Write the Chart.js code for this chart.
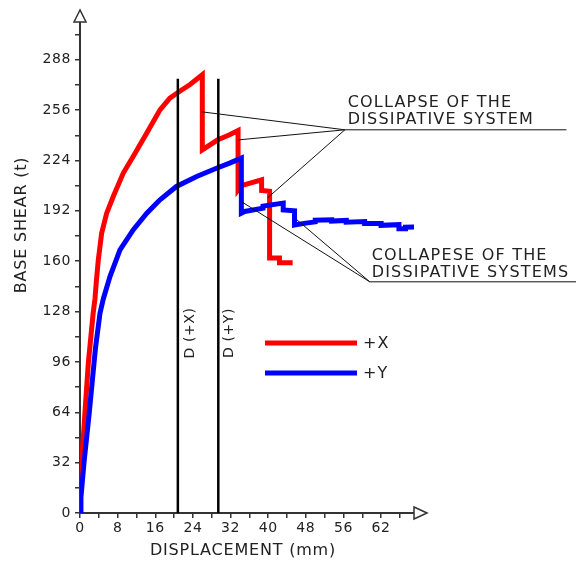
<!DOCTYPE html>
<html><head><meta charset="utf-8">
<script src="https://cdn.jsdelivr.net/npm/chart.js@4"></script>
<style>html,body{margin:0;padding:0;background:#fff}</style>
</head><body>
<canvas id="c" width="576" height="562"></canvas>
<script>
// ---------- DATA ----------
const xTickValues = [0, 8, 16, 24, 32, 40, 48, 56, 64];
const xTickLabels = ['0', '8', '16', '24', '32', '40', '48', '56', '62'];
const yTickValues = [0, 32, 64, 96, 128, 160, 192, 224, 256, 288];

// +X : displacement (mm), base shear (t)
const plusX = [
  [0,0],[0,10],[0.36,32],[1.06,64],[1.76,95],[2.8,127],[3.18,136],[3.5,148],[3.89,160.8],[4.6,177.8],
  [5.67,190.5],[7.07,201.1],[9.2,216],[11.3,226.5],[14.2,241.4],[17,256.2],[19.1,263.6],[21.2,268],
  [23.4,272.3],[26,278.5],[26,230.8],[29.2,237],[31.8,240.3],[33.6,243],[33.6,205.3],[34.3,208],
  [38.6,211.7],[38.6,205],[40.3,204.5],[40.3,162],[42.4,162],[42.4,159],[45.2,159]
];
// +Y
const plusY = [
  [0,0],[0.2,10],[0.85,32],[1.98,64],[2.97,95],[3.3,105],[4.25,127],[4.95,136],[6.37,150.2],[8.5,167.2],
  [11.3,179.9],[14.2,190.5],[17,199],[20.5,207.5],[24.8,213.8],[29,219.1],[31.8,222.3],[34.3,225.5],
  [34.3,190.5],[35,191.6],[38.9,193.7],[38.9,195],[43.2,196.9],[43.2,192.6],[45.6,192],[45.6,183],
  [48,184.2],[50,185],[50,186],[53.5,186.3],[53.5,185.5],[56.6,185.9],[56.6,184.8],[60.5,185.2],
  [60.5,184],[64,184],[64,182.8],[67.8,183.2],[67.8,180.6],[69.2,180.6],[69.2,181.6],[71.9,181.8]
];
// design displacement markers D(+X), D(+Y)
const dLabels = ['D (+X)', 'D (+Y)'];
const dValues = [20.8, 29.4];
const dTop = 276;

// ---------- CHART ----------
const FONT = '"DejaVu Sans", Verdana, sans-serif';
const INK = '#222';
const toXY = arr => arr.map(p => ({x: p[0], y: p[1]}));
const vline = v => [{x: v, y: 0}, {x: v, y: dTop}];

const annot = {
  groups: [
    {hub: [56.3, 243.5], railEnd: 103.4, ends: [[25.9, 254.9], [33.7, 237.1], [39.9, 200.3]],
     text: ['COLLAPSE OF THE', 'DISSIPATIVE SYSTEM'], tx: 56.9, ty: [258.1, 247.3]},
    {hub: [61.6, 146.9], railEnd: 106, ends: [[34.4, 197.7], [46.1, 186.3]],
     text: ['COLLAPESE OF THE', 'DISSIPATIVE SYSTEMS'], tx: 62.0, ty: [160.8, 150.0]}
  ],
  dLabelX: [23.4, 31.7], dLabelY: 114.4
};

const overlay = {
  id: 'overlay',
  beforeDraw(chart) { chart.ctx.letterSpacing = '0.6px'; },
  afterDraw(chart) {
    const {ctx, chartArea: a, scales: {x, y}} = chart;
    ctx.save();
    // axis arrows
    ctx.fillStyle = '#fff'; ctx.strokeStyle = '#333'; ctx.lineWidth = 1.5;
    ctx.beginPath(); ctx.moveTo(a.left, a.top - 12); ctx.lineTo(a.left - 6, a.top); ctx.lineTo(a.left + 6, a.top); ctx.closePath(); ctx.fill(); ctx.stroke();
    ctx.beginPath(); ctx.moveTo(a.right + 13, a.bottom); ctx.lineTo(a.right, a.bottom - 6); ctx.lineTo(a.right, a.bottom + 6); ctx.closePath(); ctx.fill(); ctx.stroke();

    // leader lines
    ctx.strokeStyle = '#111'; ctx.lineWidth = 1;
    annot.groups.forEach(g => {
      const hx = x.getPixelForValue(g.hub[0]), hy = y.getPixelForValue(g.hub[1]);
      ctx.beginPath(); ctx.moveTo(hx, hy); ctx.lineTo(x.getPixelForValue(g.railEnd), hy); ctx.stroke();
      g.ends.forEach(e => {
        ctx.beginPath(); ctx.moveTo(hx, hy); ctx.lineTo(x.getPixelForValue(e[0]), y.getPixelForValue(e[1])); ctx.stroke();
      });
      ctx.fillStyle = INK; ctx.font = '16px ' + FONT; ctx.letterSpacing = '1.2px';
      ctx.textAlign = 'left'; ctx.textBaseline = 'alphabetic';
      g.text.forEach((t, i) => ctx.fillText(t, x.getPixelForValue(g.tx), y.getPixelForValue(g.ty[i])));
    });

    // D labels (rotated)
    ctx.font = '14px ' + FONT; ctx.letterSpacing = '0.6px'; ctx.fillStyle = INK;
    dLabels.forEach((t, i) => {
      ctx.save();
      ctx.translate(x.getPixelForValue(annot.dLabelX[i]), y.getPixelForValue(annot.dLabelY));
      ctx.rotate(-Math.PI / 2); ctx.textAlign = 'center'; ctx.textBaseline = 'middle';
      ctx.fillText(t, 0, 0); ctx.restore();
    });

    // legend
    const leg = [chart.data.datasets[3], chart.data.datasets[2]];
    leg.forEach((ds, i) => {
      const ly = 343 + i * 30;
      ctx.strokeStyle = ds.borderColor; ctx.lineWidth = 5;
      ctx.beginPath(); ctx.moveTo(265, ly); ctx.lineTo(357, ly); ctx.stroke();
      ctx.fillStyle = INK; ctx.font = '16px ' + FONT; ctx.letterSpacing = '1px';
      ctx.textAlign = 'left'; ctx.textBaseline = 'middle';
      ctx.fillText(ds.label, 363, ly + 1);
    });

    // axis titles
    ctx.font = '16px ' + FONT; ctx.letterSpacing = '0.8px'; ctx.fillStyle = INK;
    ctx.textAlign = 'center'; ctx.textBaseline = 'middle';
    ctx.fillText('DISPLACEMENT (mm)', 243, 551);
    ctx.save(); ctx.translate(22, 225); ctx.rotate(-Math.PI / 2);
    ctx.fillText('BASE SHEAR (t)', 0, 0); ctx.restore();
    ctx.restore();
  }
};

const axisCommon = {
  type: 'linear',
  grid: {drawOnChartArea: false, drawTicks: true, tickLength: 5, color: '#333', lineWidth: 1.5},
  border: {display: true, color: '#333', width: 2},
  title: {display: false}
};

new Chart(document.getElementById('c'), {
  type: 'line',
  data: {
    datasets: [
      {label: dLabels[0], data: vline(dValues[0]), borderColor: '#000', borderWidth: 2.5, pointRadius: 0},
      {label: dLabels[1], data: vline(dValues[1]), borderColor: '#000', borderWidth: 2.5, pointRadius: 0},
      {label: '+Y', data: toXY(plusY), borderColor: '#0000ff', borderWidth: 5, pointRadius: 0, tension: 0},
      {label: '+X', data: toXY(plusX), borderColor: '#ff0000', borderWidth: 5, pointRadius: 0, tension: 0}
    ]
  },
  options: {
    responsive: false, animation: false, devicePixelRatio: 1,
    layout: {padding: {left: 0, top: 22, right: 162, bottom: 0}},
    plugins: {legend: {display: false}, tooltip: {enabled: false}},
    scales: {
      x: Object.assign({}, axisCommon, {
        min: 0, max: 71,
        afterFit: s => { s.height = 49; },
        ticks: {stepSize: 4, includeBounds: false, autoSkip: false, maxRotation: 0, padding: 2,
          color: INK, font: {size: 14, family: FONT},
          callback: v => { const i = xTickValues.indexOf(v); return i >= 0 ? xTickLabels[i] : ''; }}
      }),
      y: Object.assign({}, axisCommon, {
        min: 0, max: 312,
        afterFit: s => { s.width = 80; },
        ticks: {stepSize: 16, includeBounds: false, autoSkip: false, padding: 4,
          color: INK, font: {size: 14, family: FONT},
          callback: v => yTickValues.includes(v) ? String(v) : ''}
      })
    }
  },
  plugins: [overlay]
});
</script>
</body></html>
